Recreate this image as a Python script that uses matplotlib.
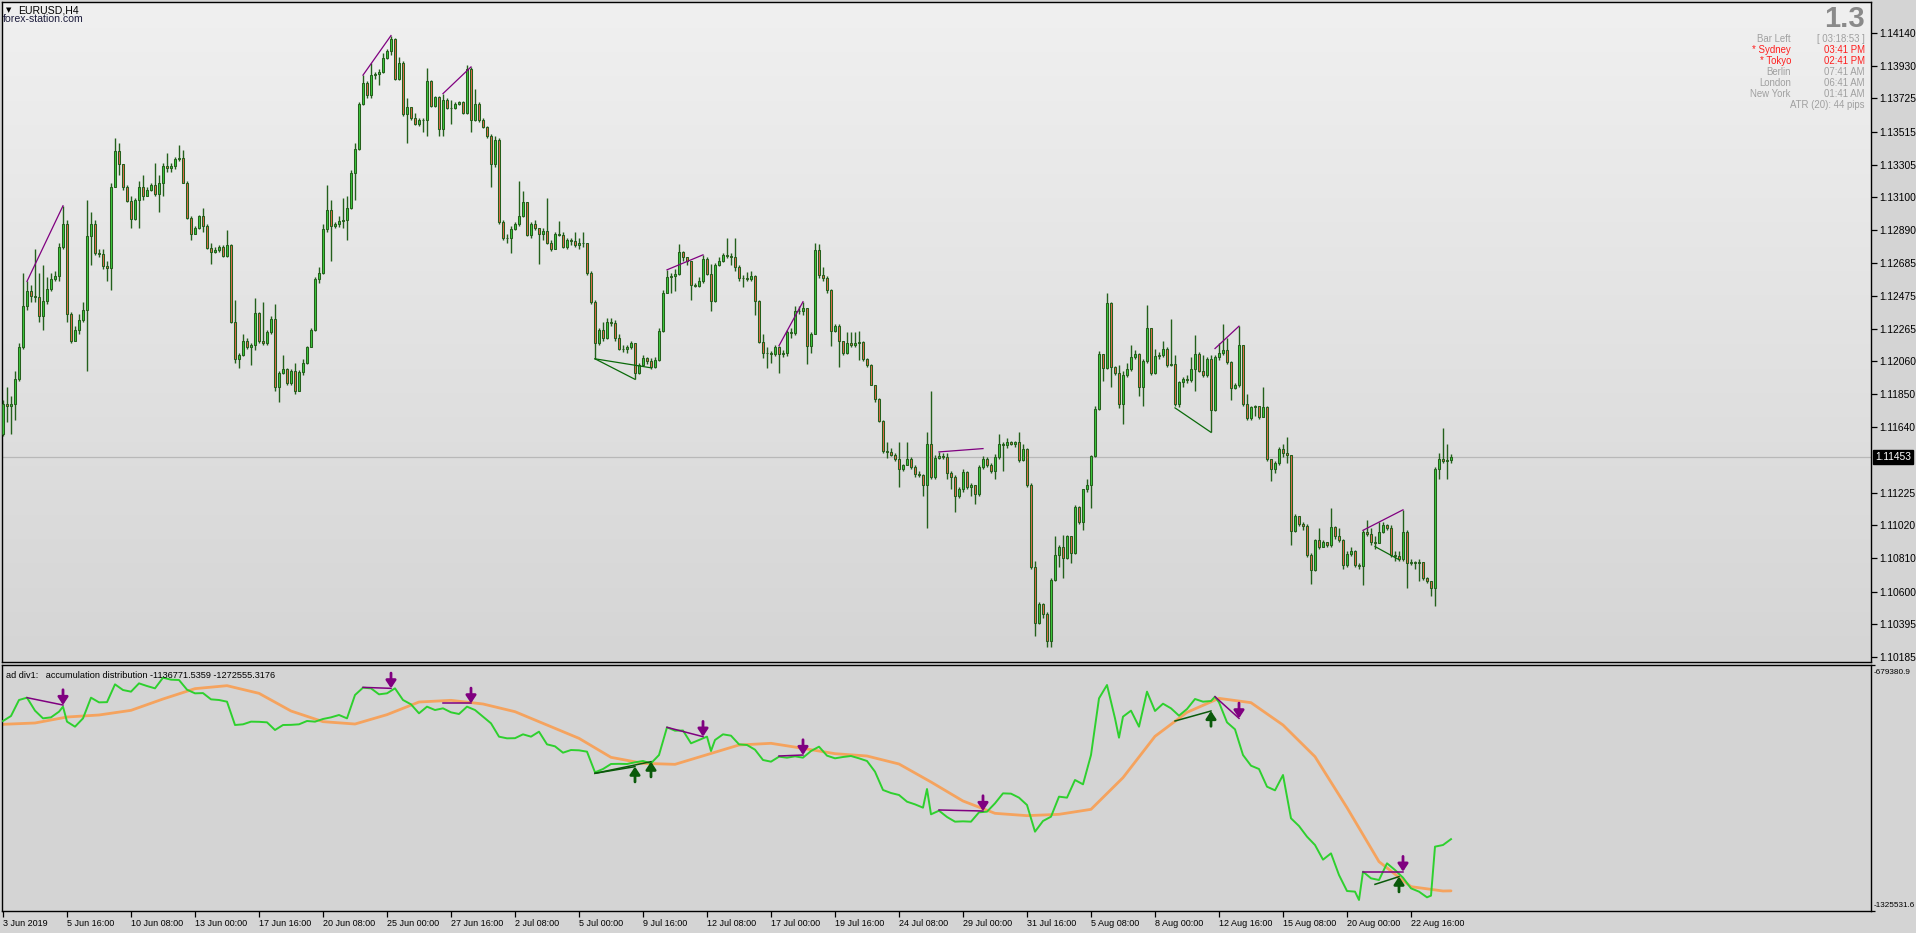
import numpy as np
import matplotlib
matplotlib.use("Agg")
import matplotlib.pyplot as plt
from matplotlib.colors import LinearSegmentedColormap

# ---------------- data (EURUSD H4, prices in points = 1e-5) ----------------
first_open_pts = 111596
close_pts = [
111790,111777,111790,111945,112152,112411,112502,112476,112468,112346,
112442,112515,112579,112597,112786,112929,112359,112191,112256,112321,
112385,112856,112929,112747,112740,112662,112649,113167,113394,113311,
113161,113076,112962,113084,113161,113110,113148,113174,113122,113187,
113296,113285,113300,113342,113345,113192,112967,112869,112903,112980,
112916,112778,112755,112765,112786,112727,112799,112308,112075,112101,
112191,112152,112165,112364,112191,112173,112243,112326,111894,111984,
112010,111920,111997,111873,111992,112049,112152,112256,112579,112618,
112897,113019,112916,112929,112949,112954,113032,113252,113407,113692,
113821,113749,113873,113880,113891,113981,114028,114100,113847,113950,
113627,113674,113601,113562,113588,113591,113834,113679,113736,113529,
113718,113666,113662,113692,113705,113632,113912,113588,113692,113588,
113544,113485,113311,113459,112941,112838,112843,112895,112929,112980,
113066,112859,112929,112903,112864,112882,112812,112773,112864,112860,
112786,112825,112820,112794,112812,112810,112618,112437,112178,112256,
112209,112308,112305,112204,112140,112137,112152,112178,111984,112036,
112080,112062,112023,112067,112251,112494,112592,112597,112613,112753,
112722,112696,112540,112535,112566,112709,112613,112442,112670,112696,
112735,112727,112722,112657,112587,112585,112579,112597,112442,112183,
112114,112110,112106,112152,112106,112114,112243,112240,112380,112378,
112398,112158,112235,112765,112605,112587,112509,112251,112282,112191,
112114,112178,112165,112175,112180,112075,112036,111912,111821,111679,
111493,111485,111467,111441,111376,111402,111441,111389,111345,111338,
111278,111537,111325,111449,111459,111454,111350,111325,111208,111247,
111356,111260,111273,111221,111389,111441,111402,111363,111454,111532,
111530,111545,111532,111550,111433,111506,111273,110755,110398,110523,
110458,110285,110673,110833,110880,110812,110949,110846,111138,111040,
111247,111273,111459,111759,112106,112018,112429,112023,111984,111790,
111971,112010,112088,112106,111899,112062,112269,111984,112096,112101,
112140,112036,112041,111790,111925,111945,111942,112010,112106,111997,
111971,112075,111751,112085,112114,112132,112054,111889,111907,112165,
111790,111700,111770,111775,111707,111770,111441,111376,111415,111506,
111475,111467,110983,111079,111027,111014,110833,110735,110924,110885,
110911,110898,111009,110949,110924,110768,110838,110859,110768,110765,
110975,110962,110911,110908,110975,111019,111001,110833,110828,110807,
110975,110781,110786,110778,110786,110683,110665,110621,111376,111441,
111428,111433,111453]
high_pts = [
111816,111894,111842,111997,112178,112618,112566,112540,112773,112618,
112670,112592,112618,112631,112812,113045,112954,112372,112282,112359,
112437,113084,113006,112954,112773,112773,112696,113187,113477,113446,
113226,113174,113110,113097,113200,113239,113161,113187,113317,113239,
113317,113381,113317,113355,113433,113399,113200,112980,112916,112985,
113032,112929,112812,112786,112799,112799,112890,112804,112450,112114,
112230,112204,112178,112463,112372,112437,112256,112346,112424,111997,
112101,112018,112010,112049,112002,112075,112158,112269,112592,112657,
112929,113174,113084,112941,112980,113097,113110,113270,113446,113705,
113873,113834,113950,113891,113912,114015,114041,114124,114106,113989,
113963,113731,113674,113632,113601,113601,113917,113839,113743,113743,
113756,113725,113718,113705,113710,113710,113937,113925,113782,113705,
113601,113549,113498,113485,113472,112954,112864,112916,112941,113205,
113136,113071,112941,112954,112890,112903,113097,112825,112877,112949,
112877,112838,112838,112877,112838,112877,112812,112631,112450,112269,
112308,112334,112334,112321,112230,112165,112165,112191,112178,112049,
112101,112088,112080,112088,112269,112509,112639,112618,112644,112804,
112760,112709,112696,112553,112592,112734,112722,112675,112683,112722,
112747,112838,112747,112838,112670,112605,112623,112631,112605,112450,
112235,112152,112127,112165,112158,112132,112256,112269,112411,112411,
112437,112398,112243,112812,112804,112657,112597,112520,112295,112295,
112178,112243,112243,112243,112251,112191,112080,112044,111907,111829,
111687,111545,111511,111480,111545,111407,111545,111454,111402,111363,
111345,111609,111868,111467,111485,111475,111475,111363,111338,111260,
111376,111363,111286,111273,111402,111459,111454,111415,111472,111596,
111545,111570,111557,111557,111614,111532,111511,111286,110794,110535,
110528,110471,110683,110949,110898,110957,110957,110949,111149,111143,
111252,111312,111467,111777,112127,112106,112494,112437,112028,112036,
111997,112049,112165,112132,112114,112075,112416,112269,112140,112121,
112191,112152,112326,112101,111933,111958,111971,112088,112225,112121,
112101,112088,112101,112101,112178,112295,112204,112062,111920,112282,
112165,111855,111777,111785,111777,111899,111777,111441,111428,111519,
111532,111578,111454,111092,111066,111040,111027,110846,110936,111001,
110924,110916,111131,111014,111001,110936,110859,110885,110864,110781,
110988,111053,111001,110949,111040,111040,111027,111019,110859,110859,
111118,110988,110807,110794,110807,110786,110691,110639,111389,111480,
111635,111532,111470]
low_pts = [
111583,111674,111596,111687,111933,112140,112385,112437,112437,112308,
112256,112424,112502,112566,112566,112773,112308,112178,112191,112230,
112308,111997,112670,112734,112722,112644,112566,112509,113161,113239,
113148,113071,112903,112954,112903,113084,113104,113141,113110,113006,
113110,113257,113257,113278,113330,113187,112962,112825,112864,112897,
112877,112773,112678,112747,112753,112722,112722,112302,112049,112018,
112096,112140,112036,112132,112178,112165,112165,112235,111868,111803,
111977,111907,111912,111855,111868,111971,112044,112147,112251,112553,
112613,112877,112696,112903,112913,112903,112825,113027,113084,113399,
113684,113731,113731,113847,113808,113886,113976,114002,113839,113839,
113614,113446,113588,113555,113549,113511,113485,113674,113674,113485,
113485,113658,113562,113658,113684,113627,113627,113511,113580,113575,
113536,113472,113161,113291,112929,112825,112812,112747,112890,112916,
112975,112851,112838,112890,112678,112825,112804,112760,112768,112851,
112778,112773,112799,112786,112773,112786,112605,112424,112075,112165,
112191,112199,112282,112191,112132,112121,112114,112140,111945,111977,
112028,112044,112010,112018,112062,112243,112489,112494,112502,112605,
112696,112670,112450,112528,112528,112553,112605,112380,112437,112665,
112691,112716,112670,112631,112566,112528,112566,112566,112354,112173,
112080,112018,112049,112096,111984,112088,112096,112204,112225,112359,
112354,112044,112114,112230,112587,112566,112494,112158,112243,112023,
112101,112106,112152,112152,112070,112062,112023,111907,111803,111674,
111480,111449,111459,111428,111260,111363,111402,111376,111325,111325,
111208,111001,111312,111312,111441,111441,111312,111247,111105,111190,
111234,111247,111208,111156,111208,111376,111389,111350,111312,111441,
111363,111511,111526,111519,111423,111428,111260,110742,110321,110393,
110432,110251,110251,110665,110755,110683,110807,110781,110838,111027,
110988,111234,111131,111454,111751,111933,112010,111894,111971,111764,
111661,111958,111997,112075,111842,111777,112049,111971,111977,112075,
112088,112023,112028,111777,111770,111894,111920,111925,111873,111992,
111958,111958,111609,111744,112070,112101,112044,111816,111881,111899,
111777,111687,111687,111713,111692,111751,111428,111299,111350,111402,
111454,111415,110898,110975,111014,110988,110820,110647,110730,110872,
110885,110885,110885,110936,110911,110742,110755,110828,110755,110742,
110639,110949,110898,110872,110911,110968,110988,110820,110794,110794,
110794,110621,110768,110742,110665,110673,110652,110569,110510,111312,
111415,111312,111415]

price_ticks = [1.14140, 1.13930, 1.13725, 1.13515, 1.13305, 1.13100, 1.12890,
               1.12685, 1.12475, 1.12265, 1.12060, 1.11850, 1.11640, 1.11225,
               1.11020, 1.10810, 1.10600, 1.10395, 1.10185]
last_price = 1.11453

date_tick_bars = list(range(0, 353, 16))
date_labels = ["3 Jun 2019", "5 Jun 16:00", "10 Jun 08:00", "13 Jun 00:00",
               "17 Jun 16:00", "20 Jun 08:00", "25 Jun 00:00", "27 Jun 16:00",
               "2 Jul 08:00", "5 Jul 00:00", "9 Jul 16:00", "12 Jul 08:00",
               "17 Jul 00:00", "19 Jul 16:00", "24 Jul 08:00", "29 Jul 00:00",
               "31 Jul 16:00", "5 Aug 08:00", "8 Aug 00:00", "12 Aug 16:00",
               "15 Aug 08:00", "20 Aug 00:00", "22 Aug 16:00"]

# divergence lines on the price chart
pd_b0 = [6, 90, 110, 148, 148, 166, 194, 234, 293, 303, 340, 343]
pd_p0 = [1.12566, 1.13873, 1.13756, 1.12075, 1.12075, 1.12639, 1.12158,
         1.11485, 1.11764, 1.12140, 1.10988, 1.10885]
pd_b1 = [15, 97, 117, 158, 162, 175, 200, 245, 302, 309, 350, 349]
pd_p1 = [1.13045, 1.14124, 1.13925, 1.11945, 1.12018, 1.12734, 1.12437,
         1.11506, 1.11609, 1.12282, 1.11118, 1.10802]
div_kind = ['bear', 'bear', 'bear', 'bull', 'bull', 'bear', 'bear', 'bear',
            'bull', 'bear', 'bear', 'bull']

# accumulation / distribution (thousands)
ad_bars = [0,2,4,6,8,10,12,14,15,16,18,20,22,24,26,28,30,32,34,36,38,40,42,44,46,48,
           50,52,54,56,58,60,62,64,66,68,70,72,74,76,78,80,82,84,86,88,90,92,94,96,98,
           100,102,104,106,108,110,112,114,116,118,120,122,124,126,128,130,132,134,136,
           138,140,142,144,146,148,150,152,154,156,158,160,162,164,166,168,170,172,174,
           176,177,178,180,182,184,186,188,190,192,194,196,198,200,202,204,206,208,210,
           212,214,216,218,220,222,224,226,228,230,231,232,234,236,238,240,242,244,246,
           248,250,252,254,256,258,260,262,264,266,268,270,272,274,276,278,279,280,282,
           284,286,288,290,292,294,296,298,300,302,303,304,306,308,310,312,314,316,318,
           320,322,324,326,328,330,332,334,336,338,339,340,342,344,346,348,350,352,354,
           356,357,358,360,362]
ad_k = [-826.5,-813.3,-771.3,-765.2,-799.3,-819.5,-816.9,-802.0,-788.8,-828.2,-841.4,
        -819.5,-765.2,-777.5,-777.0,-730.2,-745.1,-749.4,-727.6,-734.6,-740.7,-712.7,
        -717.9,-718.8,-744.2,-753.8,-753.2,-769.6,-771.3,-775.7,-837.0,-835.2,-828.2,
        -828.6,-830.0,-850.1,-837.0,-836.6,-835.2,-826.5,-828.2,-821.2,-816.9,-810.7,
        -819.5,-758.2,-738.9,-740.7,-756.4,-753.8,-740.7,-771.3,-782.7,-806.3,-788.8,
        -797.6,-793.2,-803.7,-808.1,-788.8,-797.6,-815.1,-832.6,-867.6,-872.0,-871.6,
        -861.5,-867.6,-854.5,-887.8,-893.0,-909.7,-902.7,-903.5,-907.0,-961.3,-952.6,
        -939.4,-939.0,-939.4,-935.0,-931.5,-937.7,-915.8,-843.1,-851.9,-851.4,-885.1,
        -876.4,-867.6,-905.3,-876.4,-861.5,-865.0,-887.8,-889.5,-901.8,-928.9,-933.3,
        -920.2,-922.8,-919.3,-922.8,-905.3,-893.9,-917.5,-924.5,-921.0,-918.4,-924.5,
        -931.5,-959.6,-1007.7,-1015.6,-1020.8,-1038.4,-1045.4,-1054.1,-1005.1,-1071.6,
        -1062.0,-1078.6,-1090.9,-1090.0,-1090.9,-1066.4,-1064.6,-1042.7,-1016.5,-1017.3,
        -1027.8,-1047.1,-1117.2,-1089.1,-1077.8,-1025.2,-1027.8,-981.4,-992.8,-915.8,
        -767.0,-731.9,-819.5,-870.3,-815.1,-799.3,-841.4,-749.4,-800.2,-781.0,-793.2,
        -812.5,-795.0,-768.7,-775.7,-774.0,-762.6,-777.5,-830.0,-848.4,-915.8,-943.8,
        -952.6,-999.0,-1008.6,-968.3,-1082.1,-1102.3,-1130.3,-1152.2,-1190.7,-1174.1,
        -1231.0,-1273.0,-1274.7,-1296.6,-1222.2,-1239.7,-1244.1,-1200.3,-1217.8,-1238.0,
        -1266.0,-1274.7,-1289.6,-1285.2,-1156.5,-1152.2,-1136.8]
ma_bars = list(range(0, 361, 8)) + [362]
ma_k = [-835.2,-831.7,-816.0,-810.7,-798.5,-768.7,-741.5,-733.7,-753.8,-800.2,-828.2,
        -834.4,-809.8,-776.6,-772.2,-781.8,-802.0,-837.0,-872.0,-921.9,-937.7,-940.3,
        -914.9,-889.5,-885.1,-898.3,-912.3,-918.4,-939.4,-986.7,-1036.6,-1069.0,-1075.1,
        -1071.6,-1058.5,-975.3,-866.7,-803.7,-767.0,-778.3,-837.0,-920.2,-1054.1,-1195.9,
        -1261.6,-1273.0,-1272.6]
ind_top, ind_bottom = -679380.9, -1325531.6

# divergence lines on the indicator (thousands)
id_b0 = [6, 90, 110, 148, 148, 166, 194, 234, 293, 303, 340, 343]
id_v0 = [-765.2, -738.1, -780.1, -963.9, -963.9, -843.1, -918.4, -1060.2, -826.5,
         -762.6, -1222.2, -1255.5]
id_b1 = [15, 97, 117, 158, 162, 175, 200, 245, 302, 309, 350, 349]
id_v1 = [-784.5, -740.7, -780.1, -946.4, -933.3, -867.6, -915.8, -1062.9, -800.2,
         -819.5, -1222.2, -1235.3]

# ---------------- layout ----------------
W, H = 1916, 933
fig = plt.figure(figsize=(W / 100, H / 100), dpi=100, facecolor='#d4d4d4')


def fx(px):
    return px / W


def fy(py):
    return 1 - py / H


NORMAL = ['Liberation Sans', 'DejaVu Sans']

L, R = 2, 1871
ax = fig.add_axes([fx(L), fy(662), fx(R) - fx(L), fy(2) - fy(662)])
axi = fig.add_axes([fx(L), fy(911), fx(R) - fx(L), fy(665) - fy(911)])
xmin, xmax = -0.25, 467.0

# main background gradient
grad = np.linspace(0, 1, 256).reshape(-1, 1)
cmap = LinearSegmentedColormap.from_list('bg', ['#f0f0f0', '#d5d5d5'])
ax.imshow(grad, extent=[0, 1, 0, 1], transform=ax.transAxes, cmap=cmap,
          aspect='auto', zorder=0, interpolation='bilinear')

n = min(len(close_pts), len(high_pts), len(low_pts))
closes = np.array(close_pts[:n]) / 1e5
highs = np.array(high_pts[:n]) / 1e5
lows = np.array(low_pts[:n]) / 1e5
opens = np.r_[first_open_pts / 1e5, closes[:-1]]
xb = np.arange(n)
b_hi = np.maximum(opens, closes)
b_lo = np.minimum(opens, closes)
hi = np.maximum(highs, b_hi)
lo = np.minimum(lows, b_lo)
up = closes >= opens

wick_c = '#24601c'
bull_c = '#3ec83e'
bear_c = '#e06a48'

ax.axhline(last_price, color='#b8b8b8', lw=0.9, zorder=1)
ax.vlines(xb, lo, hi, color=wick_c, lw=1.0, zorder=3)
ax.bar(xb, np.maximum(b_hi - b_lo, 0.000015), bottom=b_lo, width=0.6,
       color=[bull_c if u else bear_c for u in up], edgecolor=wick_c,
       linewidth=0.75, zorder=4)

for b0, p0, b1, p1, k in zip(pd_b0, pd_p0, pd_b1, pd_p1, div_kind):
    ax.plot([b0, b1], [p0, p1], color='#800080' if k == 'bear' else '#0a6a0a',
            lw=0.9, zorder=5)

ax.set_xlim(xmin, xmax)
ax.set_ylim(1.101534, 1.143365)
ax.set_xticks([])
ax.yaxis.tick_right()
ax.set_yticks(price_ticks)
ax.set_yticklabels([f"{t:.5f}" for t in price_ticks], fontfamily=NORMAL,
                   fontsize=7.4)
ax.tick_params(axis='y', direction='out', length=4, width=0.9, pad=2,
               colors='black')
for s in ax.spines.values():
    s.set_color('black')
    s.set_linewidth(1.0)

# current price tag
ax.text((1875 - L) / (R - L), last_price, f"{last_price:.5f}",
        transform=ax.get_yaxis_transform(), ha='left', va='center',
        fontsize=7.4, fontfamily=NORMAL, color='white', zorder=10,
        clip_on=False,
        bbox=dict(boxstyle='square,pad=0.18', fc='black', ec='black'))

# ---------------- indicator ----------------
axi.set_facecolor('#d4d4d4')
axi.plot(ma_bars, ma_k, color='#f5a35e', lw=2.0, zorder=2,
         solid_capstyle='round', solid_joinstyle='round')
axi.plot(ad_bars, ad_k, color='#2ed02e', lw=1.4, zorder=3)
for b0, v0, b1, v1, k in zip(id_b0, id_v0, id_b1, id_v1, div_kind):
    col = '#800080' if k == 'bear' else '#0a5a0a'
    axi.plot([b0, b1], [v0, v1], color=col, lw=1.1, zorder=4)
    off = 11 if k == 'bear' else -11
    axi.annotate('', xy=(b1, v1), xytext=(0, off), textcoords='offset points',
                 arrowprops=dict(arrowstyle='-|>,head_length=0.45,head_width=0.3',
                                 color=col, lw=2.0, mutation_scale=10,
                                 shrinkA=0, shrinkB=0), zorder=6)

axi.set_xlim(xmin, xmax)
axi.set_ylim(ind_bottom / 1000, ind_top / 1000)
axi.yaxis.tick_right()
axi.set_yticks([ind_top / 1000, ind_bottom / 1000])
axi.set_yticklabels(['', ''])
axi.tick_params(axis='y', direction='out', length=3, width=0.9)
axi.set_xticks(date_tick_bars)
axi.set_xticklabels(date_labels, ha='left', fontfamily=NORMAL, fontsize=6.5)
axi.tick_params(axis='x', direction='out', length=4, width=0.9, pad=2)
for s in axi.spines.values():
    s.set_color('black')
    s.set_linewidth(1.0)

fig.text(fx(1874), fy(672.5), f"{ind_top:.1f}", ha='left', va='center',
         fontsize=5.9, fontfamily=NORMAL, color='black')
fig.text(fx(1874), fy(905.5), f"{ind_bottom:.1f}", ha='left', va='center',
         fontsize=5.9, fontfamily=NORMAL, color='black')

fig.text(fx(6), fy(675), "ad div1:   accumulation distribution "
         "-1136771.5359 -1272555.3176", ha='left', va='center',
         fontsize=6.6, fontfamily=NORMAL, color='black')

# ---------------- header / info texts ----------------
fig.text(fx(6), fy(10.5), "\u25bc", ha='left', va='center', fontsize=5,
         fontfamily=['DejaVu Sans'], color='black')
fig.text(fx(18), fy(10.5), "EURUSD,H4", ha='left', va='center', fontsize=7.6,
         fontfamily=NORMAL, color='black')
fig.text(fx(3), fy(18.5), "forex-station.com", ha='left', va='center',
         fontsize=7.6, fontfamily=NORMAL, color='#1c1c3c')

fig.text(fx(1865), fy(19), "1.3", ha='right', va='center', fontsize=21,
         fontweight='bold', fontfamily=NORMAL, color='#8a8a8a')

gray = '#a0a0a0'
red = '#ff1e1e'
info_rows = [("Bar Left", "[ 03:18:53 ]", gray),
             ("* Sydney", "03:41 PM", red),
             ("* Tokyo", "02:41 PM", red),
             ("Berlin", "07:41 AM", gray),
             ("London", "06:41 AM", gray),
             ("New York", "01:41 AM", gray)]
row_y = [38.7, 50, 61, 71.7, 82.7, 93.7]
for (lab, val, col), yy in zip(info_rows, row_y):
    fig.text(fx(1791), fy(yy), lab, ha='right', va='center', fontsize=6.9,
             fontfamily=NORMAL, color=col)
    fig.text(fx(1865), fy(yy), val, ha='right', va='center', fontsize=6.9,
             fontfamily=NORMAL, color=col)
fig.text(fx(1865), fy(105.3), "ATR (20): 44 pips", ha='right', va='center',
         fontsize=6.9, fontfamily=NORMAL, color=gray)

fig.savefig('out.png', dpi=100, facecolor=fig.get_facecolor())
